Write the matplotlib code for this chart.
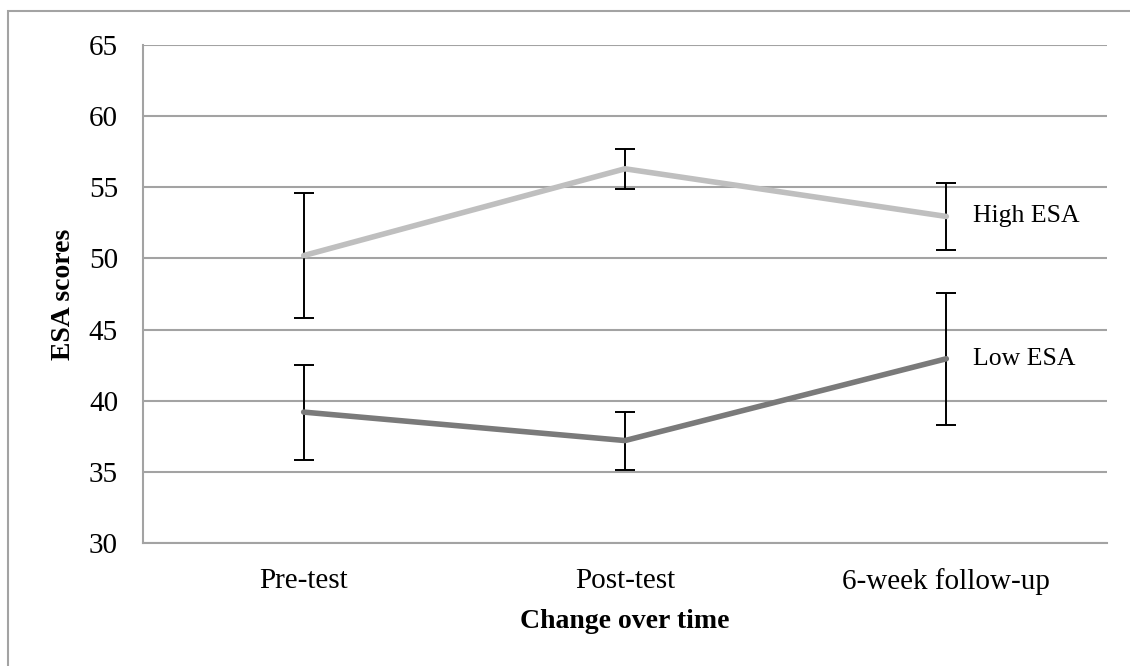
import numpy as np
import matplotlib.pyplot as plt
from matplotlib.patches import Rectangle

plt.rcParams['font.family'] = ['Liberation Serif', 'DejaVu Serif']

# data
time_points = ["Pre-test", "Post-test", "6-week follow-up"]
high_esa = [50.2, 56.3, 52.95]
high_err = [4.38, 1.4, 2.33]
low_esa = [39.2, 37.2, 42.95]
low_err = [3.34, 2.04, 4.65]
series_names = ["High ESA", "Low ESA"]

grid_col = "#a3a3a3"

fig = plt.figure(figsize=(11.3, 6.66), dpi=100)
ax = fig.add_axes([143 / 1130, 1 - 543 / 666, (1107 - 143) / 1130, (543 - 45) / 666])

# outer chart border (Excel chart area), runs off the right/bottom edge
fig.patches.append(Rectangle((8 / 1130, -0.1), 1.2, 1 - 11 / 666 + 0.1,
                             transform=fig.transFigure, fill=False,
                             edgecolor=grid_col, linewidth=1.5))

x = np.arange(len(time_points))

for vals, errs, col, name in [(high_esa, high_err, "#bfbfbf", series_names[0]),
                              (low_esa, low_err, "#7a7a7a", series_names[1])]:
    ax.errorbar(x, vals, yerr=errs, fmt="none", ecolor="black",
                elinewidth=1.4, capsize=7.5, capthick=1.4, zorder=3)
    ax.plot(x, vals, color=col, linewidth=4, solid_capstyle="round", zorder=4)
    ax.annotate(name, xy=(x[-1], vals[-1]), xytext=(19, 0),
                textcoords="offset points", ha="left", va="center", fontsize=18.5)

ax.set_xlim(-0.5, 2.5)
ax.set_ylim(30, 65)
ax.set_yticks(np.arange(30, 66, 5))
ax.set_xticks(x)
ax.set_xticklabels(time_points)
ax.tick_params(axis="both", length=0, labelsize=21)
ax.tick_params(axis="y", pad=18)
ax.tick_params(axis="x", pad=18)

ax.grid(axis="y", color=grid_col, linewidth=1.5)
ax.set_axisbelow(True)
for side in ["top", "right"]:
    ax.spines[side].set_visible(False)
for side in ["left", "bottom"]:
    ax.spines[side].set_color(grid_col)
    ax.spines[side].set_linewidth(1.5)

ax.set_ylabel("ESA scores", fontsize=20, fontweight="bold", labelpad=9)
ax.set_xlabel("Change over time", fontsize=20, fontweight="bold", labelpad=10)

fig.savefig("out.png", dpi=100)
